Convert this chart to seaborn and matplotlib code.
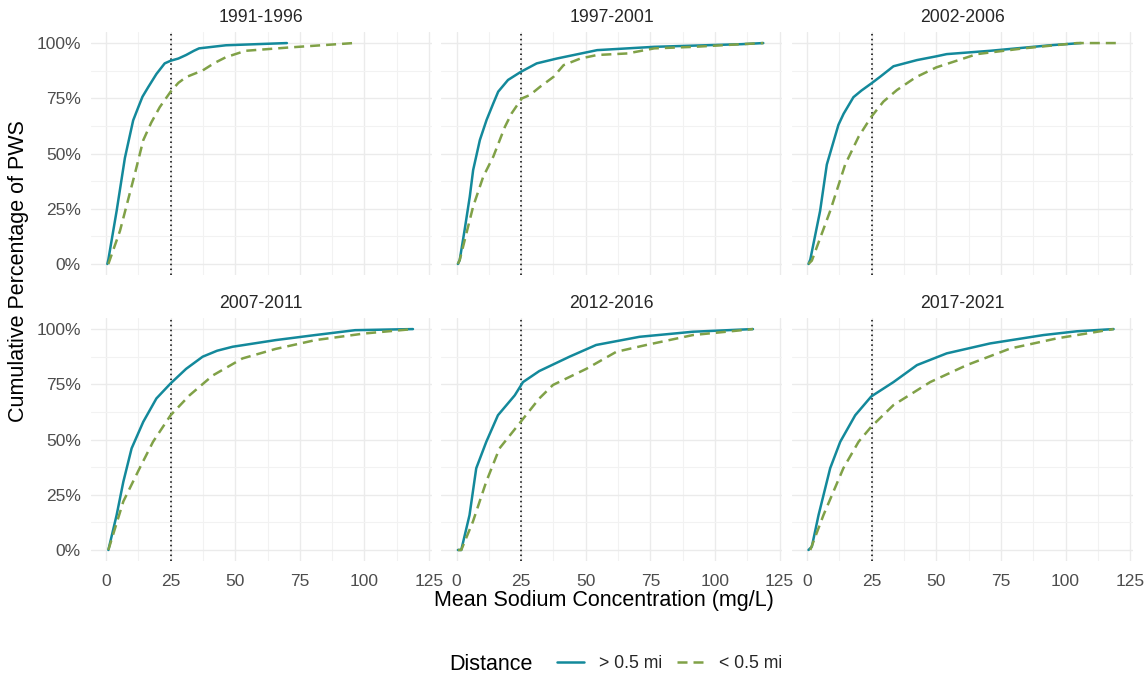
import pandas as pd
import matplotlib.pyplot as plt
import matplotlib.ticker as mticker
from matplotlib.lines import Line2D
import seaborn as sns

# periods in facet order
periods = ["1991-1996", "1997-2001", "2002-2006", "2007-2011", "2012-2016", "2017-2021"]
groups = ["> 0.5 mi", "< 0.5 mi"]

# sodium (mg/L) and cumulative % of PWS
far_1991_x = [0.5, 0.9, 4.1, 7.3, 10.5, 12.5, 14.1, 16.3, 19.5, 22.7, 25, 28, 31, 34, 36, 46.4, 70]
far_1991_y = [0, 2, 24, 48, 65, 71, 75.7, 80, 86, 90.8, 92, 93, 94.6, 96.5, 97.6, 99, 100]
near_1991_x = [0.9, 5.4, 11.2, 14.4, 17.5, 20.8, 25, 28, 31, 37.4, 42, 46.4, 54, 70.8, 95.8]
near_1991_y = [0, 15, 41, 56, 64, 71, 78, 82, 84.6, 87.6, 91, 93.6, 96.5, 98, 100]

far_1997_x = [0.5, 1.2, 3.1, 5.1, 6.4, 9, 11.6, 14.2, 16.1, 19.9, 24.9, 31, 38.8, 54.4, 76.5, 110.3, 118.7]
far_1997_y = [0, 1.8, 15.4, 30.5, 42.5, 56.1, 65.2, 72.7, 78, 83.3, 87, 90.8, 93, 96.8, 98.3, 99.5, 100]
near_1997_x = [0.5, 1.2, 6.4, 10.3, 14.2, 18.7, 21.3, 25.2, 28.4, 32.3, 37.5, 41.4, 47.9, 54.4, 66.1, 76.5, 92, 110.3, 118.7]
near_1997_y = [0, 1.8, 26, 39.5, 48.6, 62.1, 68.2, 74.9, 76.5, 80.2, 84.7, 90, 93, 94.6, 95.3, 97.6, 98.3, 99.5, 100]

far_2002_x = [0.5, 1.2, 5, 7.6, 12.1, 14.1, 17.9, 21, 24.8, 28.3, 33.4, 42.5, 50, 54, 70.8, 94, 106]
far_2002_y = [0, 2, 24, 45, 63, 68, 75.5, 78.5, 81.7, 84.8, 89.5, 92.3, 94, 95, 96.5, 99, 100]
near_2002_x = [0.5, 1.8, 8.9, 14.7, 19.9, 24.8, 29.5, 34.7, 42, 50, 65.7, 83.7, 104.4, 119.6]
near_2002_y = [0, 1.5, 24, 45, 57.6, 66.6, 73.5, 78.7, 84.5, 89, 95, 97.6, 100, 100]

far_2007_x = [0.9, 4.1, 6.7, 9.9, 14.4, 19.5, 25, 31, 37.4, 43, 49, 65.6, 81, 96.4, 118.8]
far_2007_y = [0, 15.8, 30.9, 46, 58, 68.6, 75.4, 82, 87.5, 90.2, 92, 95, 97.3, 99.5, 100]
near_2007_x = [0.9, 6.7, 13, 18.2, 25, 32.3, 41.3, 52.8, 65.6, 81, 100, 118.8]
near_2007_y = [0, 22, 37, 49, 61, 70, 79, 86.7, 91, 95, 98, 100]

far_2012_x = [0.5, 1.8, 5, 7.6, 11.5, 16, 22.5, 25.7, 32, 43.7, 54, 70.8, 91.5, 114.7]
far_2012_y = [0, 0, 15.8, 37, 49, 61, 70, 76, 81, 87.5, 92.8, 96.5, 98.8, 100]
near_2012_x = [0.5, 1.8, 6.3, 11.5, 16.6, 24.8, 32, 37.3, 50.2, 61.8, 73.4, 91.5, 114.7]
near_2012_y = [0, 0, 12.8, 31, 46, 58, 68.6, 74.7, 82, 89.7, 92.8, 97.3, 100]

far_2017_x = [0.5, 1.8, 4.4, 8.9, 12.8, 18.6, 24.8, 33.4, 42.5, 54, 70.8, 91.5, 104.4, 118.6]
far_2017_y = [0, 1.5, 15.8, 37, 49, 61, 69.5, 76, 83.7, 89, 93.5, 97.3, 99, 100]
near_2017_x = [1.2, 6.3, 14, 19.9, 24.8, 33.4, 47.6, 61.8, 78.6, 96.7, 118.6]
near_2017_y = [0, 15.8, 37, 49, 55.8, 65.6, 76, 83.7, 91.2, 95.8, 100]

series = [
    (periods[0], far_1991_x, far_1991_y, near_1991_x, near_1991_y),
    (periods[1], far_1997_x, far_1997_y, near_1997_x, near_1997_y),
    (periods[2], far_2002_x, far_2002_y, near_2002_x, near_2002_y),
    (periods[3], far_2007_x, far_2007_y, near_2007_x, near_2007_y),
    (periods[4], far_2012_x, far_2012_y, near_2012_x, near_2012_y),
    (periods[5], far_2017_x, far_2017_y, near_2017_x, near_2017_y),
]

rows = []
for period, fx, fy, nx, ny in series:
    for x, y in zip(fx, fy):
        rows.append({"period": period, "Distance": groups[0], "sodium": x, "pct": y})
    for x, y in zip(nx, ny):
        rows.append({"period": period, "Distance": groups[1], "sodium": x, "pct": y})
df = pd.DataFrame(rows)

teal = "#13899B"
olive = "#80A147"
palette = {groups[0]: teal, groups[1]: olive}
dashes = {groups[0]: "", groups[1]: (4, 2.4)}

sns.set_theme(style="whitegrid", rc={
    "grid.color": "#EBEBEB",
    "grid.linewidth": 1.0,
    "axes.edgecolor": "white",
    "xtick.major.size": 0,
    "ytick.major.size": 0,
})
plt.rcParams["font.family"] = ["Liberation Sans", "DejaVu Sans"]

g = sns.relplot(
    data=df, x="sodium", y="pct", kind="line",
    col="period", col_wrap=3, col_order=periods,
    hue="Distance", hue_order=groups, palette=palette,
    style="Distance", style_order=groups, dashes=dashes,
    estimator=None, linewidth=1.8, legend=False,
    height=3, aspect=1.3,
)

fig = g.figure
fig.set_size_inches(11.46, 6.77)
fig.subplots_adjust(left=0.079, right=0.9884, top=0.9527, bottom=0.1713,
                    wspace=0.028, hspace=0.177)

g.set_titles("{col_name}", size=12.7, pad=7)
g.set_axis_labels("", "")

for ax in g.axes.flat:
    ax.axvline(25, color="black", linestyle=(0, (1, 2.2)), linewidth=1.1, zorder=1)
    ax.set_xlim(-6, 126)
    ax.set_ylim(-5, 105)
    ax.set_xticks([0, 25, 50, 75, 100, 125])
    ax.set_yticks([0, 25, 50, 75, 100])
    ax.set_xticks([12.5, 37.5, 62.5, 87.5, 112.5], minor=True)
    ax.set_yticks([12.5, 37.5, 62.5, 87.5], minor=True)
    ax.grid(which="minor", color="#F2F2F2", linewidth=0.8)
    ax.grid(which="major", color="#EBEBEB", linewidth=1.0)
    ax.yaxis.set_major_formatter(mticker.FuncFormatter(lambda v, p: f"{v:.0f}%"))
    ax.tick_params(axis="both", which="both", length=0, labelsize=12.5,
                   labelcolor="#4D4D4D", pad=7)
    ax.tick_params(axis="x", pad=9)
    for sp in ax.spines.values():
        sp.set_visible(False)

fig.text(0.527, 0.113, "Mean Sodium Concentration (mg/L)", ha="center", va="center",
         fontsize=15.5, color="black")
fig.text(0.016, 0.60, "Cumulative Percentage of PWS", ha="center", va="center",
         rotation=90, fontsize=15.5, color="black")

fig.text(449 / 1146, 1 - 664 / 677, "Distance", ha="left", va="center",
         fontsize=15.5, color="black")
handles = [
    Line2D([], [], color=teal, linewidth=1.8),
    Line2D([], [], color=olive, linewidth=1.8, dashes=(4, 2.4)),
]
fig.legend(handles, groups, loc="center left", bbox_to_anchor=(541 / 1146, 1 - 664 / 677),
           ncol=2, frameon=False, fontsize=12.7, handlelength=1.55,
           handletextpad=0.85, columnspacing=0.8, borderpad=0.4)

fig.savefig("out.png", dpi=100)
